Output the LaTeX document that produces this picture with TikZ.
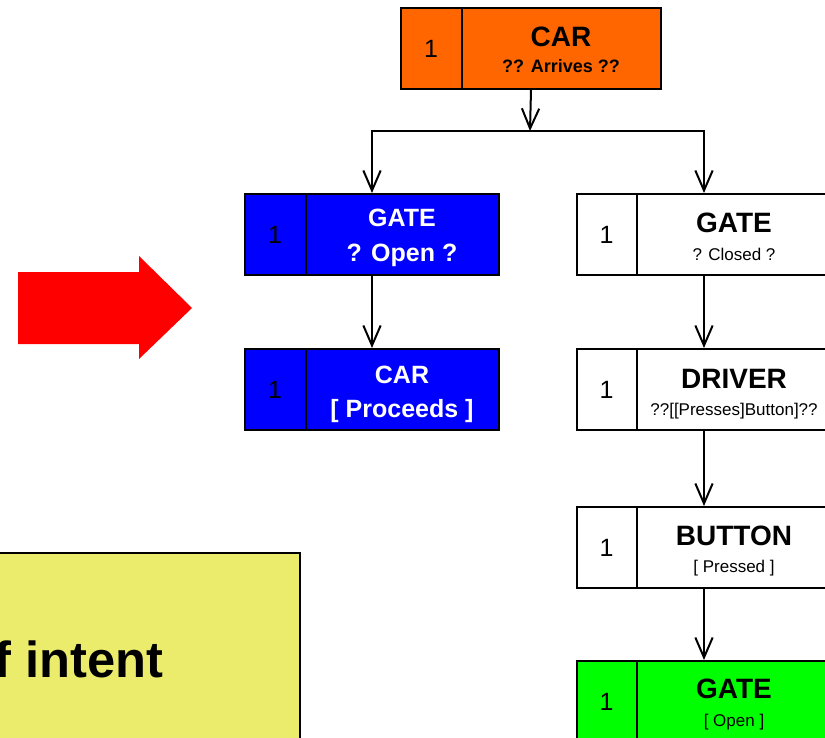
\documentclass[tikz,border=0pt]{standalone}
\usepackage{fontspec}
\setmainfont{Liberation Sans}
\usetikzlibrary{arrows.meta,calc}
\definecolor{carorange}{RGB}{255,102,0}
\definecolor{openblue}{RGB}{0,0,255}
\definecolor{donegreen}{RGB}{0,255,0}
\definecolor{notepad}{RGB}{236,236,108}
\definecolor{bigred}{RGB}{255,0,0}

\begin{document}
\begin{tikzpicture}[x=0.75pt,y=-0.75pt,
  box/.style={draw=black, line width=1.5pt, inner sep=0pt, anchor=north west,
              minimum height=60.75pt},
  widebox/.style={box, minimum width=195pt},
  stdbox/.style={box, minimum width=190.5pt},
  divider/.style={draw=black, line width=1.5pt},
  num/.style={inner sep=0pt, font=\fontsize{18.75}{20}\selectfont},
  ttl/.style={inner sep=0pt, anchor=base, font=\fontsize{21}{23}\selectfont\bfseries},
  sub/.style={inner sep=0pt, anchor=base, font=\fontsize{12.75}{14}\selectfont},
  subbold/.style={inner sep=0pt, anchor=base, font=\fontsize{13.5}{15}\selectfont\bfseries},
  bluettl/.style={inner sep=0pt, anchor=base, text=white, font=\fontsize{18.75}{20}\selectfont\bfseries},
  conn/.style={draw=black, line width=1.5pt,
               -{Straight Barb[length=15pt,width=13pt,line width=1.5pt]}},
]
\useasboundingbox (0,0) rectangle (825,738);
\clip (0,0) rectangle (825,738);

% pointer arrow
\fill[bigred] (18,272) -- (139,272) -- (139,256) -- (192,308) -- (139,359)
  -- (139,344) -- (18,344) -- cycle;

% note panel
\draw[fill=notepad, line width=1.5pt] (-20,553) rectangle (300,760);
\node[inner sep=0pt, anchor=base east, font=\fontsize{38}{40}\selectfont\bfseries]
  (intent) at (164,677) {f intent};

% start: car arrives
\node[widebox, fill=carorange] (arrive) at (400,7) {};
\draw[divider] ($(arrive.north west)+(62,0)$) -- ($(arrive.south west)+(62,0)$);
\node[num] (arriveN) at ($(arrive.west)+(31,0)$) {1};
\node[ttl] (arriveT) at ($(arrive.north west)+(161,40)$) {CAR};
\node[subbold] (arriveS) at ($(arrive.north west)+(161,66)$) {?? Arrives ??};

% left branch (gate already open)
\node[stdbox, fill=openblue] (open) at (244,193) {};
\draw[divider] ($(open.north west)+(62,0)$) -- ($(open.south west)+(62,0)$);
\node[num] (openN) at ($(open.west)+(31,0)$) {1};
\node[bluettl] (openT) at ($(open.north west)+(158,34)$) {GATE};
\node[bluettl] (openS) at ($(open.north west)+(158,69)$) {? Open ?};

\node[stdbox, fill=openblue] (proceed) at (244,348) {};
\draw[divider] ($(proceed.north west)+(62,0)$) -- ($(proceed.south west)+(62,0)$);
\node[num] (proceedN) at ($(proceed.west)+(31,0)$) {1};
\node[bluettl] (proceedT) at ($(proceed.north west)+(158,35)$) {CAR};
\node[bluettl] (proceedS) at ($(proceed.north west)+(158,69)$) {[ Proceeds ]};

% right branch (gate closed)
\node[stdbox, fill=white] (closed) at (576,193) {};
\draw[divider] ($(closed.north west)+(61,0)$) -- ($(closed.south west)+(61,0)$);
\node[num] (closedN) at ($(closed.west)+(30.5,0)$) {1};
\node[ttl] (closedT) at ($(closed.north west)+(158,40)$) {GATE};
\node[sub] (closedS) at ($(closed.north west)+(158,67)$) {? Closed ?};

\node[stdbox, fill=white] (driver) at (576,348) {};
\draw[divider] ($(driver.north west)+(61,0)$) -- ($(driver.south west)+(61,0)$);
\node[num] (driverN) at ($(driver.west)+(30.5,0)$) {1};
\node[ttl] (driverT) at ($(driver.north west)+(158,40)$) {DRIVER};
\node[sub] (driverS) at ($(driver.north west)+(158,67)$) {??[[Presses]Button]??};

\node[stdbox, fill=white] (button) at (576,506) {};
\draw[divider] ($(button.north west)+(61,0)$) -- ($(button.south west)+(61,0)$);
\node[num] (buttonN) at ($(button.west)+(30.5,0)$) {1};
\node[ttl] (buttonT) at ($(button.north west)+(158,39)$) {BUTTON};
\node[sub] (buttonS) at ($(button.north west)+(158,66)$) {[ Pressed ]};

\node[stdbox, fill=donegreen] (opened) at (576,660) {};
\draw[divider] ($(opened.north west)+(61,0)$) -- ($(opened.south west)+(61,0)$);
\node[num] (openedN) at ($(opened.west)+(30.5,0)$) {1};
\node[ttl] (openedT) at ($(opened.north west)+(158,38)$) {GATE};
\node[sub] (openedS) at ($(opened.north west)+(158,66)$) {[ Open ]};

% connectors
\coordinate (split) at (530,131);
\draw[conn] (arrive.south) -- (split);
\draw[conn] (split) -| (open.north);
\draw[conn] (split) -| (closed.north);
\draw[conn] (open.south) -- (proceed.north);
\draw[conn] (closed.south) -- (driver.north);
\draw[conn] (driver.south) -- (button.north);
\draw[conn] (button.south) -- (opened.north);
\end{tikzpicture}
\end{document}
